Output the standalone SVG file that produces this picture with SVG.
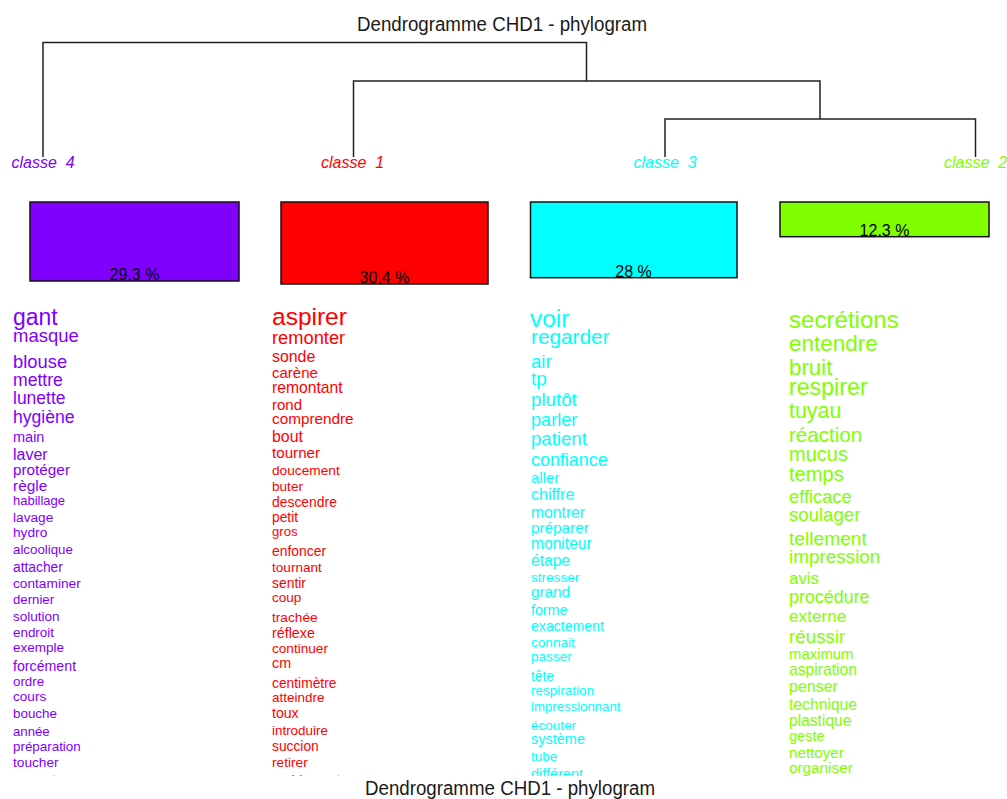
<svg xmlns="http://www.w3.org/2000/svg" width="1007" height="799" viewBox="0 0 1007 799">
<style>
text{font-family:"Liberation Sans",Arial,sans-serif}
.title{font-size:20px;fill:#1a1a1a;text-anchor:middle}
.lab{font-size:16px;font-style:italic;text-anchor:middle;white-space:pre}
.pct{font-size:16px;fill:#000;text-anchor:middle}
.box{stroke:#111;stroke-width:1.5}
.dend{fill:none;stroke:#222;stroke-width:1.5}
.c4{fill:#8000FF}.c1{fill:#FF0000}.c3{fill:#00FFFF}.c2{fill:#80FF00}
</style>
<defs>
<clipPath id="clip"><rect x="0" y="290" width="1007" height="486"/></clipPath>
</defs>
<rect width="1007" height="799" fill="#fff"/>
<text class="title" x="502" y="31" textLength="290" lengthAdjust="spacingAndGlyphs">Dendrogramme CHD1 - phylogram</text>
<g id="connectors">
<path class="dend" d="M43,157V42.5H586.5V81M353.5,157V81H820V119M665,157V119H975.5V157"/>
</g>
<g id="classe4">
<text class="lab c4" x="43" y="168" xml:space="preserve">classe  4</text>
<rect class="box c4" x="30" y="202" width="209" height="79"/>
<text class="pct" x="134.5" y="280">29.3 %</text>
<g clip-path="url(#clip)" class="c4">
<text x="13" y="325" font-size="23">gant</text>
<text x="13" y="342" font-size="18.5">masque</text>
<text x="13" y="368" font-size="18.4">blouse</text>
<text x="13" y="386" font-size="17.6">mettre</text>
<text x="13" y="404" font-size="17.5">lunette</text>
<text x="13" y="423" font-size="17.6">hygiène</text>
<text x="13" y="442" font-size="14.5">main</text>
<text x="13" y="460" font-size="16">laver</text>
<text x="13" y="475" font-size="15.3">protéger</text>
<text x="13" y="491" font-size="15.4">règle</text>
<text x="13" y="505" font-size="13">habillage</text>
<text x="13" y="522" font-size="13.7">lavage</text>
<text x="13" y="537" font-size="13.7">hydro</text>
<text x="13" y="554" font-size="13.3">alcoolique</text>
<text x="13" y="572" font-size="13.8">attacher</text>
<text x="13" y="588" font-size="13.7">contaminer</text>
<text x="13" y="604" font-size="13.2">dernier</text>
<text x="13" y="621" font-size="13.5">solution</text>
<text x="13" y="637" font-size="13.4">endroit</text>
<text x="13" y="652" font-size="13.5">exemple</text>
<text x="13" y="671" font-size="14.2">forcément</text>
<text x="13" y="686" font-size="13.3">ordre</text>
<text x="13" y="701" font-size="13.6">cours</text>
<text x="13" y="718" font-size="13.4">bouche</text>
<text x="13" y="736" font-size="13.2">année</text>
<text x="13" y="751" font-size="13.4">préparation</text>
<text x="13" y="767" font-size="13.7">toucher</text>
<text x="13" y="784" font-size="13.5">rapport</text>
</g>
</g>
<g id="classe1">
<text class="lab c1" x="352.5" y="168" xml:space="preserve">classe  1</text>
<rect class="box c1" x="281" y="202" width="207" height="82"/>
<text class="pct" x="384.5" y="283">30.4 %</text>
<g clip-path="url(#clip)" class="c1">
<text x="272" y="325" font-size="24.5">aspirer</text>
<text x="272" y="344" font-size="18.3">remonter</text>
<text x="272" y="362" font-size="15.9">sonde</text>
<text x="272" y="378" font-size="15">carène</text>
<text x="272" y="393" font-size="15.7">remontant</text>
<text x="272" y="410" font-size="15">rond</text>
<text x="272" y="424" font-size="15.3">comprendre</text>
<text x="272" y="442" font-size="15.9">bout</text>
<text x="272" y="458" font-size="15.2">tourner</text>
<text x="272" y="475" font-size="13.7">doucement</text>
<text x="272" y="491" font-size="13.6">buter</text>
<text x="272" y="507" font-size="13.9">descendre</text>
<text x="272" y="522" font-size="13.8">petit</text>
<text x="272" y="536" font-size="13.2">gros</text>
<text x="272" y="556" font-size="13.9">enfoncer</text>
<text x="272" y="572" font-size="13.6">tournant</text>
<text x="272" y="588" font-size="13.9">sentir</text>
<text x="272" y="602" font-size="13.5">coup</text>
<text x="272" y="622" font-size="13.7">trachée</text>
<text x="272" y="638" font-size="14.3">réflexe</text>
<text x="272" y="653" font-size="13.6">continuer</text>
<text x="272" y="668" font-size="14.3">cm</text>
<text x="272" y="688" font-size="13.8">centimètre</text>
<text x="272" y="702" font-size="13.5">atteindre</text>
<text x="272" y="718" font-size="14.1">toux</text>
<text x="272" y="735" font-size="13.4">introduire</text>
<text x="272" y="751" font-size="13.8">succion</text>
<text x="272" y="767" font-size="13.7">retirer</text>
<text x="272" y="784" font-size="13.7">rapidement</text>
</g>
</g>
<g id="classe3">
<text class="lab c3" x="665" y="168" xml:space="preserve">classe  3</text>
<rect class="box c3" x="530.5" y="202" width="206.5" height="75.7"/>
<text class="pct" x="633.5" y="276.5">28 %</text>
<g clip-path="url(#clip)" class="c3">
<text x="530" y="327" font-size="24.4">voir</text>
<text x="531" y="344" font-size="20.8">regarder</text>
<text x="531" y="368" font-size="18.6">air</text>
<text x="531" y="385" font-size="18.8">tp</text>
<text x="531" y="406" font-size="18.7">plutôt</text>
<text x="531" y="426" font-size="18.1">parler</text>
<text x="531" y="445" font-size="18.6">patient</text>
<text x="531" y="466" font-size="17.9">confiance</text>
<text x="531" y="483" font-size="15">aller</text>
<text x="531" y="500" font-size="16">chiffre</text>
<text x="531" y="518" font-size="15.7">montrer</text>
<text x="531" y="533" font-size="15.3">préparer</text>
<text x="531" y="549" font-size="15.6">moniteur</text>
<text x="531" y="566" font-size="15.6">étape</text>
<text x="531" y="582" font-size="13.6">stresser</text>
<text x="531" y="597" font-size="15.3">grand</text>
<text x="531" y="615" font-size="14.2">forme</text>
<text x="531" y="631" font-size="14.1">exactement</text>
<text x="531" y="647" font-size="13.6">connait</text>
<text x="531" y="661" font-size="13.6">passer</text>
<text x="531" y="681" font-size="13.8">tête</text>
<text x="531" y="695" font-size="13.5">respiration</text>
<text x="531" y="711" font-size="13.2">impressionnant</text>
<text x="531" y="730" font-size="13.5">écouter</text>
<text x="531" y="744" font-size="14.5">système</text>
<text x="531" y="761" font-size="13.5">tube</text>
<text x="531" y="779" font-size="14.5">différent</text>
</g>
</g>
<g id="classe2">
<text class="lab c2" x="975.5" y="168" xml:space="preserve">classe  2</text>
<rect class="box c2" x="780" y="202" width="209" height="34.7"/>
<text class="pct" x="884.5" y="235.5">12.3 %</text>
<g clip-path="url(#clip)" class="c2">
<text x="789" y="328" font-size="24.1">secrétions</text>
<text x="789" y="351" font-size="22.5">entendre</text>
<text x="789" y="375" font-size="22.3">bruit</text>
<text x="789" y="395" font-size="23.2">respirer</text>
<text x="789" y="418" font-size="21.4">tuyau</text>
<text x="789" y="442" font-size="20.6">réaction</text>
<text x="789" y="461" font-size="20">mucus</text>
<text x="789" y="481" font-size="20.1">temps</text>
<text x="789" y="503" font-size="18.3">efficace</text>
<text x="789" y="521" font-size="18.6">soulager</text>
<text x="789" y="545" font-size="19.2">tellement</text>
<text x="789" y="563" font-size="18.9">impression</text>
<text x="789" y="584" font-size="16.9">avis</text>
<text x="789" y="603" font-size="17.9">procédure</text>
<text x="789" y="622" font-size="17.2">externe</text>
<text x="789" y="643" font-size="18.8">réussir</text>
<text x="789" y="659" font-size="14.9">maximum</text>
<text x="789" y="675" font-size="15.7">aspiration</text>
<text x="789" y="692" font-size="16">penser</text>
<text x="789" y="710" font-size="15.7">technique</text>
<text x="789" y="726" font-size="15.6">plastique</text>
<text x="789" y="741" font-size="14.6">geste</text>
<text x="789" y="758" font-size="15.2">nettoyer</text>
<text x="789" y="773" font-size="15.3">organiser</text>
</g>
</g>
<text class="title" x="510" y="795" textLength="290" lengthAdjust="spacingAndGlyphs">Dendrogramme CHD1 - phylogram</text>
</svg>
